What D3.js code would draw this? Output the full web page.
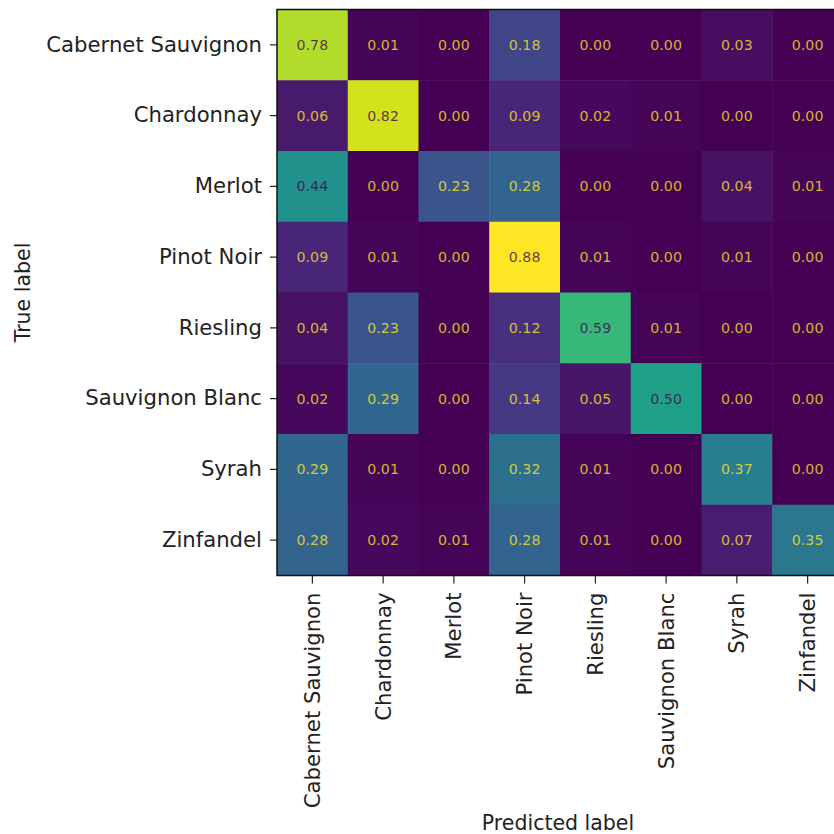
<!DOCTYPE html>
<html>
<head>
<meta charset="utf-8">
<script src="https://cdn.jsdelivr.net/npm/d3@7"></script>
<style>
  html, body { margin: 0; padding: 0; background: #fff; }
  svg { display: block; }
  text { font-family: "DejaVu Sans", sans-serif; }
</style>
</head>
<body>
<svg id="chart" width="834" height="834"></svg>
<script>
// Wine varieties (true rows / predicted columns)
const labels = ["Cabernet Sauvignon", "Chardonnay", "Merlot", "Pinot Noir",
                "Riesling", "Sauvignon Blanc", "Syrah", "Zinfandel"];

// Row-normalised confusion matrix, one array per true label
const rowCabernet   = [0.78, 0.01, 0.00, 0.18, 0.00, 0.00, 0.03, 0.00];
const rowChardonnay = [0.06, 0.82, 0.00, 0.09, 0.02, 0.01, 0.00, 0.00];
const rowMerlot     = [0.44, 0.00, 0.23, 0.28, 0.00, 0.00, 0.04, 0.01];
const rowPinot      = [0.09, 0.01, 0.00, 0.88, 0.01, 0.00, 0.01, 0.00];
const rowRiesling   = [0.04, 0.23, 0.00, 0.12, 0.59, 0.01, 0.00, 0.00];
const rowSauvBlanc  = [0.02, 0.29, 0.00, 0.14, 0.05, 0.50, 0.00, 0.00];
const rowSyrah      = [0.29, 0.01, 0.00, 0.32, 0.01, 0.00, 0.37, 0.00];
const rowZinfandel  = [0.28, 0.02, 0.01, 0.28, 0.01, 0.00, 0.07, 0.35];

const matrix = [rowCabernet, rowChardonnay, rowMerlot, rowPinot,
                rowRiesling, rowSauvBlanc, rowSyrah, rowZinfandel];

const cells = [];
matrix.forEach((row, i) => row.forEach((v, j) => cells.push({ t: labels[i], p: labels[j], v })));

const svg = d3.select("#chart");
const plotLeft = 277, plotTop = 9.5, cell = 70.75;
const size = cell * labels.length;
const labelSize = 21.2;

const x = d3.scaleBand().domain(labels).range([plotLeft, plotLeft + size]);
const y = d3.scaleBand().domain(labels).range([plotTop, plotTop + size]);

const vmin = d3.min(cells, d => d.v), vmax = d3.max(cells, d => d.v);
const color = d3.scaleSequential(d3.interpolateViridis).domain([vmin, vmax]);
const thresh = (vmin + vmax) / 2;

// Heatmap cells
svg.append("g").selectAll("rect").data(cells).join("rect")
  .attr("x", d => x(d.p))
  .attr("y", d => y(d.t))
  .attr("width", x.bandwidth() + 0.5)
  .attr("height", y.bandwidth() + 0.5)
  .attr("fill", d => color(d.v));

// Value annotations
svg.append("g").selectAll("text").data(cells).join("text")
  .attr("x", d => x(d.p) + x.bandwidth() / 2)
  .attr("y", d => y(d.t) + y.bandwidth() / 2)
  .attr("text-anchor", "middle")
  .attr("dominant-baseline", "central")
  .attr("font-size", 14.2)
  .attr("fill", d => d.v >= thresh ? "#440154" : "#fde725")
  .attr("fill-opacity", 0.78)
  .text(d => d.v.toFixed(2));

// Axes
const yAxis = svg.append("g")
  .attr("transform", `translate(${plotLeft},0)`)
  .call(d3.axisLeft(y).tickSize(7).tickPadding(8));
const xAxis = svg.append("g")
  .attr("transform", `translate(0,${plotTop + size})`)
  .call(d3.axisBottom(x).tickSize(8).tickPadding(9));

[yAxis, xAxis].forEach(g => {
  g.select(".domain").remove();
  g.selectAll("text").attr("font-size", labelSize).attr("fill", "#222")
    .attr("font-family", "DejaVu Sans, sans-serif");
  g.selectAll("line").attr("stroke", "#222").attr("stroke-width", 1.2);
});

xAxis.selectAll("text")
  .attr("transform", "rotate(-90)")
  .attr("text-anchor", "end")
  .attr("x", -17)
  .attr("y", 0)
  .attr("dy", "0.35em");

// Frame around the matrix
svg.append("rect")
  .attr("x", plotLeft).attr("y", plotTop)
  .attr("width", size).attr("height", size)
  .attr("fill", "none").attr("stroke", "#111").attr("stroke-width", 1.5);

// Axis titles
svg.append("text")
  .attr("x", plotLeft + 281).attr("y", 830)
  .attr("text-anchor", "middle")
  .attr("font-size", 20.5).attr("fill", "#222")
  .text("Predicted label");

svg.append("text")
  .attr("transform", `translate(30,${plotTop + size / 2}) rotate(-90)`)
  .attr("text-anchor", "middle")
  .attr("font-size", 20.5).attr("fill", "#222")
  .text("True label");
</script>
</body>
</html>
